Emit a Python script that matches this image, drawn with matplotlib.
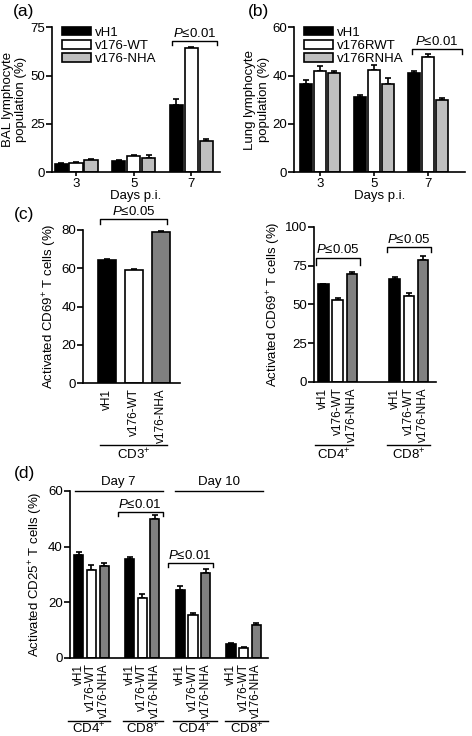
import matplotlib
matplotlib.use("Agg")
import matplotlib.pyplot as plt
import matplotlib.transforms as mtransforms
import numpy as np

plt.rcParams["font.family"] = ["Liberation Sans", "DejaVu Sans"]
plt.rcParams["mathtext.fontset"] = "custom"
plt.rcParams["mathtext.rm"] = "Liberation Sans"
plt.rcParams["mathtext.it"] = "Liberation Sans:italic"
plt.rcParams["font.size"] = 9.5

FS = 9.5
FS_ROT = 8.5

# ---- data ----
days = ["3", "5", "7"]
a_labels = ["vH1", "v176-WT", "v176-NHA"]
a_vh1 = [4.5, 6.0, 35.0]
a_wt = [5.0, 8.5, 64.0]
a_nha = [6.5, 7.5, 16.0]
a_vh1_err = [0.4, 0.5, 3.0]
a_wt_err = [0.3, 0.5, 1.0]
a_nha_err = [0.5, 1.3, 1.0]

b_labels = ["vH1", "v176RWT", "v176RNHA"]
b_vh1 = [36.5, 31.0, 41.0]
b_wt = [42.0, 42.5, 47.8]
b_nha = [41.0, 36.5, 30.0]
b_vh1_err = [1.8, 1.0, 0.7]
b_wt_err = [2.0, 2.0, 1.3]
b_nha_err = [0.8, 2.3, 0.8]

virus_names = ["vH1", "v176-WT", "v176-NHA"]
c3_vals = [64.5, 59.0, 79.0]
c3_err = [0.4, 0.6, 0.5]
c4_vals = [63.0, 53.0, 69.5]
c4_err = [0.3, 1.5, 1.5]
c8_vals = [66.5, 55.5, 79.0]
c8_err = [1.0, 2.0, 2.0]

d_groups = ["CD4$^{+}$", "CD8$^{+}$", "CD4$^{+}$", "CD8$^{+}$"]
d_vals = [[37.0, 31.5, 33.0], [35.5, 21.5, 50.0], [24.5, 15.5, 30.5], [5.0, 3.5, 11.8]]
d_err = [[1.2, 1.8, 1.3], [0.8, 1.4, 1.5], [1.3, 0.6, 1.4], [0.3, 0.6, 0.7]]

fill_light = ["black", "white", "#bfbfbf"]
fill_dark = ["black", "white", "#808080"]
LW = 1.2


def style(ax):
    for s in ["top", "right"]:
        ax.spines[s].set_visible(False)
    for s in ["left", "bottom"]:
        ax.spines[s].set_linewidth(LW)
    ax.tick_params(axis="y", direction="out", length=4, width=LW, labelsize=FS, pad=1)


def bar_up(ax, x, h, e, color, w, label=None):
    x = np.atleast_1d(x)
    h = np.atleast_1d(h)
    e = np.atleast_1d(e)
    ax.bar(x, h, w, color=color, edgecolor="black", linewidth=LW, label=label, zorder=2)
    ax.errorbar(x, h, yerr=np.vstack([np.zeros_like(e), e]), fmt="none",
                ecolor="black", elinewidth=LW, capsize=2.5, capthick=LW, zorder=1)


def bracket(ax, x0, x1, y, drop, text):
    ax.plot([x0, x0, x1, x1], [y - drop, y, y, y - drop], color="black", lw=1.0, clip_on=False)
    ax.text((x0 + x1) / 2, y + drop * 0.3, text, ha="center", va="bottom", fontsize=FS)


def group_label(ax, x0, x1, yl, yt, text):
    tr = mtransforms.blended_transform_factory(ax.transData, ax.transAxes)
    ax.plot([x0, x1], [yl, yl], color="black", lw=1.0, transform=tr, clip_on=False)
    ax.text((x0 + x1) / 2, yt, text, transform=tr, ha="center", va="baseline", fontsize=FS)


fig = plt.figure(figsize=(4.72, 7.36), dpi=100)

# ---- (a) ----
ax = fig.add_axes([0.110, 0.766, 0.356, 0.197])
x = np.arange(len(days))
w = 0.23
for i, (v, e) in enumerate(zip([a_vh1, a_wt, a_nha], [a_vh1_err, a_wt_err, a_nha_err])):
    bar_up(ax, x + (i - 1) * (w + 0.03), v, e, fill_light[i], w, a_labels[i])
ax.set_ylim(0, 75)
ax.set_yticks([0, 25, 50, 75])
ax.set_xlim(-0.42, 2.5)
ax.set_xticks(x)
ax.set_xticklabels(days)
ax.tick_params(axis="x", length=3, width=LW, labelsize=FS, pad=1)
ax.set_xlabel("Days p.i.", fontsize=FS, labelpad=0)
ax.set_ylabel("BAL lymphocyte\npopulation (%)", fontsize=FS, labelpad=2)
style(ax)
ax.legend(loc="upper left", bbox_to_anchor=(0.02, 1.05), frameon=False, fontsize=FS,
          handlelength=2.2, handleheight=0.65, labelspacing=0.1, handletextpad=0.3, borderpad=0)
bracket(ax, 1.67, 2.45, 67.8, 2.2, "$P$≤0.01")
fig.text(0.027, 0.984, "(a)", fontsize=12.5, ha="left", va="center")

# ---- (b) ----
ax = fig.add_axes([0.623, 0.766, 0.362, 0.197])
for i, (v, e) in enumerate(zip([b_vh1, b_wt, b_nha], [b_vh1_err, b_wt_err, b_nha_err])):
    bar_up(ax, x + (i - 1) * (w + 0.03), v, e, fill_light[i], w, b_labels[i])
ax.set_ylim(0, 60)
ax.set_yticks([0, 20, 40, 60])
ax.set_xlim(-0.48, 2.69)
ax.set_xticks(x)
ax.set_xticklabels(days)
ax.tick_params(axis="x", length=3, width=LW, labelsize=FS, pad=1)
ax.set_xlabel("Days p.i.", fontsize=FS, labelpad=0)
ax.set_ylabel("Lung lymphocyte\npopulation (%)", fontsize=FS, labelpad=2)
style(ax)
ax.legend(loc="upper left", bbox_to_anchor=(0.02, 1.05), frameon=False, fontsize=FS,
          handlelength=2.2, handleheight=0.65, labelspacing=0.1, handletextpad=0.3, borderpad=0)
bracket(ax, 1.7, 2.63, 50.9, 1.8, "$P$≤0.01")
fig.text(0.525, 0.984, "(b)", fontsize=12.5, ha="left", va="center")

# ---- (c) left ----
ax = fig.add_axes([0.176, 0.4796, 0.2055, 0.2079])
xc = np.arange(3)
for i in range(3):
    bar_up(ax, xc[i], c3_vals[i], c3_err[i], fill_dark[i], 0.67)
ax.set_ylim(0, 80)
ax.set_yticks([0, 20, 40, 60, 80])
ax.set_xlim(-0.89, 2.7)
ax.set_xticks(xc)
ax.set_xticklabels(virus_names, rotation=90, fontsize=FS_ROT)
ax.tick_params(axis="x", length=0, pad=4)
ax.set_ylabel("Activated CD69$^{+}$ T cells (%)", fontsize=FS, labelpad=2)
style(ax)
bracket(ax, -0.26, 2.22, 85.7, 2.7, "$P$≤0.05")
group_label(ax, -0.26, 2.22, -0.405, -0.497, "CD3$^{+}$")
fig.text(0.03, 0.708, "(c)", fontsize=12.5, ha="left", va="center")

# ---- (c) right ----
ax = fig.add_axes([0.665, 0.481, 0.2585, 0.2106])
xl = np.array([0, 1, 2])
xr = np.array([5, 6, 7])
for i in range(3):
    bar_up(ax, xl[i], c4_vals[i], c4_err[i], fill_dark[i], 0.75)
    bar_up(ax, xr[i], c8_vals[i], c8_err[i], fill_dark[i], 0.75)
ax.set_ylim(0, 100)
ax.set_yticks([0, 25, 50, 75, 100])
ax.set_xlim(-0.67, 7.9)
ax.set_xticks(np.concatenate([xl, xr]))
ax.set_xticklabels(virus_names * 2, rotation=90, fontsize=FS_ROT)
ax.tick_params(axis="x", length=0, pad=4)
ax.set_ylabel("Activated CD69$^{+}$ T cells (%)", fontsize=FS, labelpad=1)
style(ax)
bracket(ax, -0.53, 2.57, 80.0, 4.5, "$P$≤0.05")
bracket(ax, 4.47, 7.57, 87.0, 3.2, "$P$≤0.05")
group_label(ax, -0.6, 2.07, -0.406, -0.497, "CD4$^{+}$")
group_label(ax, 4.47, 7.5, -0.406, -0.497, "CD8$^{+}$")

# ---- (d) ----
ax = fig.add_axes([0.148, 0.106, 0.4195, 0.2269])
for g in range(4):
    xg = np.arange(3) + 4 * g
    for i in range(3):
        bar_up(ax, xg[i], d_vals[g][i], d_err[g][i], fill_dark[i], 0.72)
ax.set_ylim(0, 60)
ax.set_yticks([0, 20, 40, 60])
ax.set_xlim(-0.7, 14.9)
ax.set_xticks([i + 4 * g for g in range(4) for i in range(3)])
ax.set_xticklabels(virus_names * 4, rotation=90, fontsize=FS_ROT)
ax.tick_params(axis="x", length=0, pad=4)
ax.set_ylabel("Activated CD25$^{+}$ T cells (%)", fontsize=FS, labelpad=2)
style(ax)
bracket(ax, 3.07, 6.6, 52.5, 1.5, "$P$≤0.01")
bracket(ax, 7.0, 10.55, 34.1, 1.5, "$P$≤0.01")
tr = mtransforms.blended_transform_factory(ax.transData, ax.transAxes)
for x0, x1, txt in [(-0.3, 6.6, "Day 7"), (7.56, 14.5, "Day 10")]:
    ax.plot([x0, x1], [1.0, 1.0], color="black", lw=1.0, transform=tr, clip_on=False)
    ax.text((x0 + x1) / 2, 1.015, txt, transform=tr, ha="center", va="bottom", fontsize=FS)
for g, (x0, x1) in enumerate([(-0.87, 2.44), (3.46, 6.6), (7.4, 10.9), (11.5, 14.9)]):
    group_label(ax, x0, x1, -0.377, -0.452, d_groups[g])
fig.text(0.03, 0.357, "(d)", fontsize=12.5, ha="left", va="center")

fig.savefig("out.png", dpi=100)
